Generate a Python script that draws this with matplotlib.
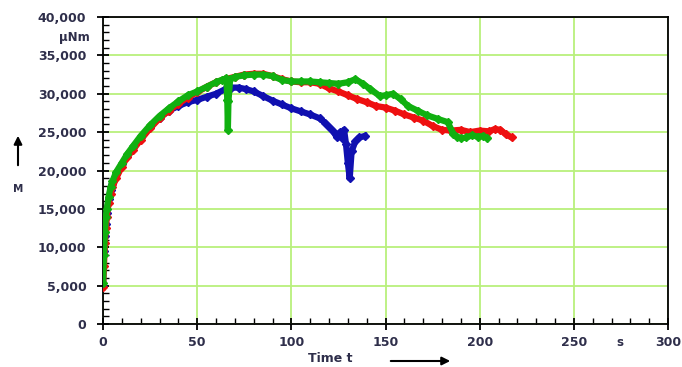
import matplotlib
matplotlib.use("Agg")
import matplotlib.pyplot as plt
from matplotlib.ticker import MultipleLocator, FuncFormatter

# ---- data ----
red_t = [0, 0.5, 1, 1.5, 2, 3, 4, 5, 7, 10, 13, 16, 20, 25, 30, 35, 40, 45, 50, 55, 60, 65, 70, 75,
         80, 85, 90, 95, 100, 105, 110, 115, 120, 125, 130, 135, 140, 145, 150, 155, 160, 165, 170,
         175, 180, 185, 190, 195, 200, 205, 208, 211, 214, 217]
red_v = [4800, 7500, 10500, 12500, 14000, 15800, 17000, 17800, 19000, 20500, 21800, 22700, 24000,
         25500, 26800, 27800, 28700, 29500, 30200, 30900, 31500, 31900, 32200, 32500, 32600, 32600,
         32300, 31900, 31600, 31500, 31500, 31300, 30700, 30300, 29800, 29300, 28900, 28400, 28200,
         27800, 27300, 26900, 26500, 25800, 25300, 25200, 25300, 25000, 25200, 25100, 25400, 25300,
         24700, 24300]

green_t = [0, 0.5, 1, 1.5, 2, 3, 4, 5, 7, 10, 13, 16, 20, 25, 30, 35, 40, 45, 50, 55, 60, 63, 65.5,
           66, 66.3, 66.6, 67.5, 70, 75, 80, 85, 90, 95, 100, 105, 110, 115, 120, 125, 130, 134, 138,
           142, 147, 150, 154, 158, 162, 167, 172, 178, 183, 186, 188, 190, 193, 196, 199, 202, 204]
green_v = [5300, 9000, 12000, 14000, 15000, 16600, 17800, 18600, 19800, 21000, 22200, 23200, 24500,
           25900, 27100, 28100, 29000, 29800, 30300, 30900, 31500, 31800, 32000, 29200, 25300, 29000,
           31900, 32200, 32400, 32500, 32500, 32300, 31800, 31600, 31600, 31600, 31500, 31400, 31300,
           31500, 31900, 31300, 30600, 29700, 29800, 30000, 29300, 28400, 27800, 27200, 26700, 26300,
           24800, 24400, 24200, 24300, 24600, 24400, 24500, 24200]

blue_t = [0, 0.5, 1, 1.5, 2, 3, 4, 5, 7, 10, 13, 16, 20, 25, 30, 35, 40, 45, 50, 55, 60, 65, 68, 72,
          76, 80, 85, 90, 95, 100, 105, 110, 115, 118, 120, 122, 124, 126, 127, 128, 129, 130, 131,
          132, 134, 136, 139]
blue_v = [5000, 9500, 11500, 13000, 14500, 16300, 17500, 18300, 19500, 20800, 22000, 23000, 24300,
          25700, 26900, 27800, 28400, 28900, 29200, 29600, 30000, 30600, 30800, 30800, 30600, 30300,
          29700, 29100, 28600, 28100, 27700, 27300, 26800, 26200, 25700, 25200, 24400, 25000, 24200,
          25300, 23500, 21000, 19000, 22500, 23800, 24300, 24500]

x_ticks = [0, 50, 100, 150, 200, 250, 300]
y_ticks = [0, 5000, 10000, 15000, 20000, 25000, 30000, 35000, 40000]

# ---- figure ----
W, H = 682, 367
fig = plt.figure(figsize=(W / 100, H / 100), dpi=100)
ax = fig.add_axes([103 / W, 1 - 324 / H, (668 - 103) / W, (324 - 17) / H])

txt_color = "#2e2e4a"
grid_color = "#b9f07c"

ax.plot(blue_t, blue_v, color="#1010b0", lw=4.5, marker="D", ms=4, zorder=3)
ax.plot(red_t, red_v, color="#ee1010", lw=4.5, marker="D", ms=4, zorder=4)
ax.plot(green_t, green_v, color="#10b010", lw=4.5, marker="D", ms=4, zorder=5)

ax.set_xlim(0, 300)
ax.set_ylim(0, 40000)
ax.set_xticks(x_ticks)
ax.set_yticks(y_ticks)
ax.xaxis.set_minor_locator(MultipleLocator(10))
ax.yaxis.set_minor_locator(MultipleLocator(1000))
ax.yaxis.set_major_formatter(FuncFormatter(lambda v, p: f"{int(v):,}"))
ax.grid(True, which="major", color=grid_color, lw=1.3, zorder=0)
ax.set_axisbelow(True)

for s in ax.spines.values():
    s.set_linewidth(1.3)
    s.set_color("black")

ax.tick_params(which="major", direction="inout", length=8, width=1.3,
               labelsize=9, labelcolor=txt_color)
ax.tick_params(axis="x", which="major", pad=5)
ax.tick_params(axis="y", which="major", pad=8)
ax.tick_params(which="minor", direction="in", length=4, width=1.0)
for lab in ax.get_xticklabels() + ax.get_yticklabels():
    lab.set_fontweight("bold")

# axis annotations
fig.text(90 / W, 1 - 38 / H, "µNm", ha="right", va="center", fontsize=8.5,
         fontweight="bold", color=txt_color)
fig.text(18 / W, 1 - 189 / H, "M", ha="center", va="center", fontsize=7.5,
         fontweight="bold", color=txt_color)
fig.add_artist(matplotlib.patches.FancyArrowPatch(
    (18 / W, 1 - 168 / H), (18 / W, 1 - 133 / H), transform=fig.transFigure,
    arrowstyle="-|>", mutation_scale=12, lw=1.5, color="black"))
fig.text(330 / W, 1 - 359 / H, "Time t", ha="center", va="center", fontsize=9,
         fontweight="bold", color=txt_color)
fig.add_artist(matplotlib.patches.FancyArrowPatch(
    (388 / W, 1 - 361 / H), (453 / W, 1 - 361 / H), transform=fig.transFigure,
    arrowstyle="-|>", mutation_scale=12, lw=1.5, color="black"))
fig.text(620 / W, 1 - 342 / H, "s", ha="center", va="center", fontsize=8.5,
         fontweight="bold", color=txt_color)

fig.savefig("out.png", dpi=100)
